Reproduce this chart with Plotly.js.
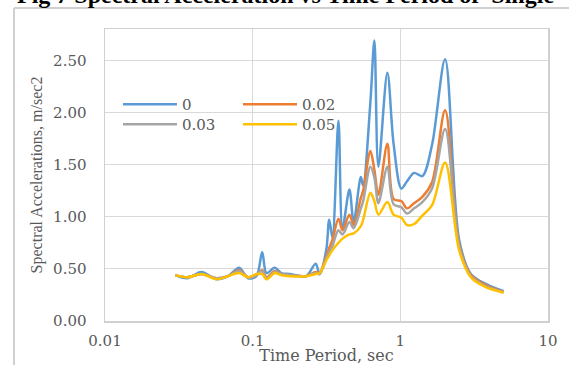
<!DOCTYPE html>
<html><head><meta charset="utf-8">
<script src="https://cdn.plot.ly/plotly-3.0.1.min.js"></script>
<style>html,body{margin:0;padding:0;background:#fff;overflow:hidden}</style>
</head><body>
<div id="chart" style="width:569px;height:365px"></div>
<script>
// Periods (sec)
const periods = [0.03, 0.036, 0.045, 0.057, 0.068, 0.081, 0.093, 0.106, 0.116, 0.124, 0.141, 0.156, 0.178, 0.23, 0.267, 0.284, 0.315, 0.33, 0.347, 0.381, 0.406, 0.452, 0.483, 0.54, 0.56, 0.627, 0.667, 0.71, 0.817, 0.9, 1.016, 1.11, 1.24, 1.41, 1.64, 2.01, 2.5, 3.0, 3.5, 4.0, 4.5, 5.0];
// Spectral accelerations for each damping ratio
const sa_0    = [0.44, 0.41, 0.47, 0.40, 0.43, 0.51, 0.41, 0.43, 0.66, 0.46, 0.51, 0.46, 0.45, 0.43, 0.55, 0.45, 0.68, 0.97, 0.80, 1.92, 0.89, 1.26, 0.95, 1.38, 1.30, 2.10, 2.69, 1.48, 2.38, 1.70, 1.27, 1.34, 1.42, 1.39, 1.69, 2.51, 0.78, 0.45, 0.38, 0.34, 0.31, 0.285];
const sa_002  = [0.44, 0.42, 0.45, 0.41, 0.43, 0.49, 0.42, 0.44, 0.49, 0.42, 0.48, 0.45, 0.44, 0.43, 0.47, 0.46, 0.62, 0.70, 0.78, 0.98, 0.87, 1.02, 0.92, 1.18, 1.25, 1.63, 1.45, 1.21, 1.70, 1.17, 1.15, 1.08, 1.13, 1.19, 1.33, 2.02, 0.74, 0.44, 0.37, 0.33, 0.30, 0.28];
const sa_003  = [0.44, 0.42, 0.45, 0.41, 0.43, 0.48, 0.42, 0.44, 0.48, 0.41, 0.47, 0.45, 0.44, 0.43, 0.46, 0.45, 0.60, 0.66, 0.72, 0.87, 0.83, 0.95, 0.89, 1.08, 1.15, 1.48, 1.38, 1.13, 1.48, 1.12, 1.09, 1.03, 1.08, 1.14, 1.27, 1.84, 0.72, 0.43, 0.36, 0.32, 0.295, 0.275];
const sa_005  = [0.44, 0.42, 0.45, 0.40, 0.43, 0.46, 0.42, 0.45, 0.45, 0.40, 0.46, 0.44, 0.43, 0.43, 0.45, 0.46, 0.58, 0.63, 0.68, 0.75, 0.79, 0.83, 0.84, 0.91, 0.97, 1.23, 1.15, 1.02, 1.14, 1.02, 0.99, 0.92, 0.93, 1.01, 1.11, 1.52, 0.68, 0.42, 0.35, 0.31, 0.29, 0.27];
const seriesNames = ['0', '0.02', '0.03', '0.05'];
const seriesColors = ['#5B9BD5', '#ED7D31', '#A5A5A5', '#FFC000'];
const xTickVals = [0.01, 0.1, 1, 10];
const xTickText = ['0.01', '0.1', '1', '10'];
const yTickVals = [0, 0.5, 1, 1.5, 2, 2.5];
const yTickText = ['0.00', '0.50', '1.00', '1.50', '2.00', '2.50'];

const seriesData = [sa_0, sa_002, sa_003, sa_005];
const legendIds = ['legend', 'legend2', 'legend3', 'legend4'];
const traces = seriesData.map((vals, i) => ({
  x: periods, y: vals, type: 'scatter', mode: 'lines',
  name: seriesNames[i], legend: legendIds[i],
  line: {color: seriesColors[i], width: 2.5, shape: 'spline', smoothing: 0.9}
}));

const grey = '#595959';
const legendFont = {family: 'DejaVu Serif', size: 15, color: grey};
// legend slots: [left px, top px]
const legendSlots = [[118, 88], [238, 88], [118, 108], [238, 108]];

const layout = {
  width: 569, height: 365,
  margin: {l: 105, r: 21, t: 29, b: 44},
  paper_bgcolor: '#fff', plot_bgcolor: '#fff',
  showlegend: true,
  xaxis: {
    type: 'log', range: [-2, 1], tickvals: xTickVals, ticktext: xTickText,
    showgrid: true, gridcolor: '#d9d9d9', gridwidth: 1,
    showline: true, linecolor: '#d0d0d0', linewidth: 1.5, mirror: true,
    ticks: '', ticklabelstandoff: 5,
    tickfont: {family: 'DejaVu Serif', size: 15, color: grey},
    title: {text: 'Time Period, sec', font: {family: 'DejaVu Serif', size: 16, color: grey}, standoff: 4},
    zeroline: false
  },
  yaxis: {
    range: [0, 2.8], tickvals: yTickVals, ticktext: yTickText,
    showgrid: true, gridcolor: '#d9d9d9', gridwidth: 1,
    showline: true, linecolor: '#d0d0d0', linewidth: 1.5, mirror: true,
    ticks: '', ticklabelstandoff: 14,
    tickfont: {family: 'DejaVu Serif', size: 15, color: grey},
    title: {text: 'Spectral Accelerations, m/sec2', font: {family: 'Liberation Serif', size: 16, color: grey}, standoff: 6},
    zeroline: false
  },
  annotations: [{
    text: '<b>Fig 7 Spectral Acceleration vs Time Period of  Single</b>',
    xref: 'paper', yref: 'paper', x: (15 - 105) / 443, y: (321 - 10) / 292,
    xanchor: 'left', yanchor: 'bottom', showarrow: false,
    font: {family: 'Liberation Serif', size: 24, color: '#000'}
  }],
  shapes: [
    {type: 'line', xref: 'paper', yref: 'paper', x0: (14 - 105) / 443, x1: (14 - 105) / 443, y0: (321 - 8) / 292, y1: (321 - 380) / 292, line: {color: '#d0d0d0', width: 2}},
    {type: 'line', xref: 'paper', yref: 'paper', x0: (14 - 105) / 443, x1: (580 - 105) / 443, y0: (321 - 8) / 292, y1: (321 - 8) / 292, line: {color: '#d0d0d0', width: 2}}
  ]
};
legendIds.forEach((id, i) => {
  layout[id] = {
    x: (legendSlots[i][0] - 105) / 443, y: (321 - legendSlots[i][1]) / 292,
    xanchor: 'left', yanchor: 'top', bgcolor: 'rgba(0,0,0,0)',
    font: legendFont, itemwidth: 54
  };
});
Plotly.newPlot('chart', traces, layout, {staticPlot: true, displayModeBar: false});
</script>
</body></html>
